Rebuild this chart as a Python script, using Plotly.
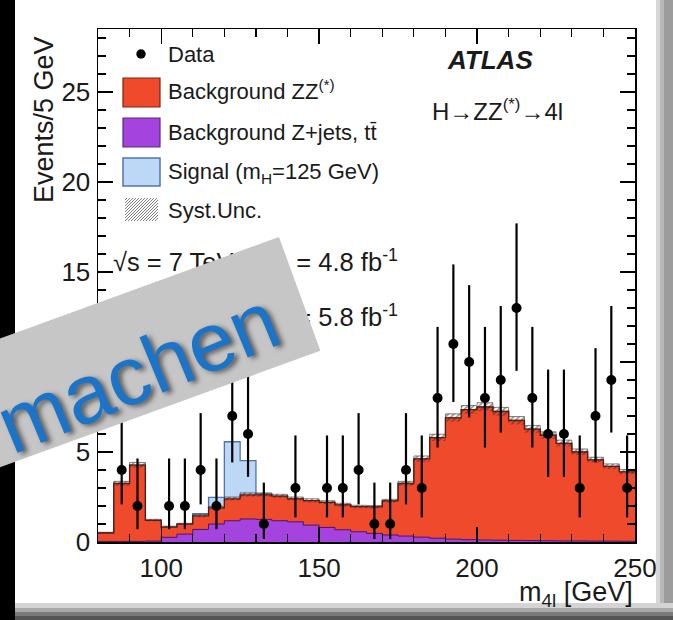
import plotly.graph_objects as go

# ---------------- data ----------------
bin_centers = [82.5, 87.5, 92.5, 97.5, 102.5, 107.5, 112.5, 117.5, 122.5, 127.5,
               132.5, 137.5, 142.5, 147.5, 152.5, 157.5, 162.5, 167.5, 172.5, 177.5,
               182.5, 187.5, 192.5, 197.5, 202.5, 207.5, 212.5, 217.5, 222.5, 227.5,
               232.5, 237.5, 242.5, 247.5]
bkg_zjets = [0.03, 0.03, 0.03, 0.05, 0.26, 0.44, 0.70, 1.00, 1.18, 1.28,
             1.26, 1.18, 1.12, 0.94, 0.81, 0.68, 0.57, 0.48, 0.39, 0.33,
             0.27, 0.21, 0.16, 0.13, 0.11, 0.10, 0.09, 0.08, 0.07, 0.06,
             0.06, 0.05, 0.05, 0.04]
bkg_zz = [0.47, 3.22, 4.24, 1.15, 0.57, 0.55, 0.75, 0.90, 1.22, 1.34,
          1.36, 1.37, 1.28, 1.36, 1.39, 1.38, 1.39, 1.47, 1.89, 2.92,
          4.35, 5.59, 6.74, 7.22, 7.39, 7.15, 6.66, 6.19, 5.86, 5.42,
          4.94, 4.51, 4.15, 3.86]
signal_h125 = [0, 0, 0, 0, 0, 0, 0.12, 0.58, 3.17, 1.90,
               0.05, 0, 0, 0, 0, 0, 0, 0, 0, 0,
               0, 0, 0, 0, 0, 0, 0, 0, 0, 0,
               0, 0, 0, 0]
syst_unc = [0.04, 0.12, 0.15, 0.06, 0.05, 0.05, 0.07, 0.08, 0.10, 0.11,
            0.11, 0.10, 0.10, 0.10, 0.09, 0.09, 0.08, 0.08, 0.09, 0.12,
            0.16, 0.19, 0.22, 0.23, 0.24, 0.23, 0.22, 0.20, 0.19, 0.18,
            0.17, 0.15, 0.14, 0.13]

data_mass = [87.5, 92.5, 102.5, 107.5, 112.5, 117.5, 122.5, 127.5, 132.5, 142.5,
             152.5, 157.5, 162.5, 167.5, 172.5, 177.5, 182.5, 187.5, 192.5, 197.5,
             202.5, 207.5, 212.5, 217.5, 222.5, 227.5, 232.5, 237.5, 242.5, 247.5]
data_events = [4, 2, 2, 2, 4, 2, 7, 6, 1, 3,
               3, 3, 4, 1, 1, 4, 3, 8, 11, 10,
               8, 9, 13, 8, 6, 6, 3, 7, 9, 3]
data_err_up = [3.16, 2.64, 2.64, 2.64, 3.16, 2.64, 3.77, 3.58, 2.30, 2.92,
               2.92, 2.92, 3.16, 2.30, 2.30, 3.16, 2.92, 3.95, 4.42, 4.27,
               3.95, 4.11, 4.70, 3.95, 3.58, 3.58, 2.92, 3.77, 4.11, 2.92]
data_err_down = [1.91, 1.29, 1.29, 1.29, 1.91, 1.29, 2.58, 2.38, 0.83, 1.63,
                 1.63, 1.63, 1.91, 0.83, 0.83, 1.91, 1.63, 2.75, 3.22, 3.08,
                 2.75, 2.92, 3.49, 2.75, 2.38, 2.38, 1.63, 2.58, 2.92, 1.63]

x_tick_vals = [100, 150, 200, 250]
x_tick_text = ["100", "150", "200", "250"]
y_tick_vals = [0, 5, 10, 15, 20, 25]
y_tick_text = ["0", "5", "10", "15", "20", "25"]

# ---------------- geometry helpers (pixels -> paper) ----------------
W, H = 673, 620
PL, PR, PT, PB = 98, 635, 29, 542
XMIN, XMAX, YMIN, YMAX = 80, 250, 0, 28.5


def X(px):
    return (px - PL) / (PR - PL)


def Y(py):
    return (PB - py) / (PB - PT)


def DX(px):
    return XMIN + (px - PL) * (XMAX - XMIN) / (PR - PL)


def DY(py):
    return YMIN + (PB - py) * (YMAX - YMIN) / (PB - PT)


FONT = "Liberation Sans, Arial, Helvetica, sans-serif"
RED = "#ef4a2b"
PURPLE = "#a443de"
BLUE = "#bcd8f6"

edges = [c - 2.5 for c in bin_centers] + [bin_centers[-1] + 2.5]


def step(vals):
    return list(vals) + [vals[-1]]


total_bkg = [a + b for a, b in zip(bkg_zjets, bkg_zz)]
sig_top = [t + s for t, s in zip(total_bkg, signal_h125)]
unc_lo = [t - u for t, u in zip(total_bkg, syst_unc)]
unc_hi = [t + u for t, u in zip(total_bkg, syst_unc)]

fig = go.Figure()

fig.add_trace(go.Scatter(x=edges, y=step(sig_top), mode="lines",
                         line=dict(shape="hv", color="#4f74ad", width=1.3),
                         fill="tozeroy", fillcolor=BLUE, name="Signal"))
fig.add_trace(go.Scatter(x=edges, y=step(total_bkg), mode="lines",
                         line=dict(shape="hv", color="#6b1a0e", width=1.3),
                         fill="tozeroy", fillcolor=RED, name="Background ZZ(*)"))
fig.add_trace(go.Scatter(x=edges, y=step(bkg_zjets), mode="lines",
                         line=dict(shape="hv", color="#4b1466", width=1.0),
                         fill="tozeroy", fillcolor=PURPLE, name="Background Z+jets, tt"))
fig.add_trace(go.Scatter(x=edges, y=step(unc_lo), mode="lines",
                         line=dict(shape="hv", color="rgba(0,0,0,0)", width=0),
                         showlegend=False, hoverinfo="skip"))
fig.add_trace(go.Scatter(x=edges, y=step(unc_hi), mode="lines",
                         line=dict(shape="hv", color="rgba(40,40,40,0.7)", width=0.8),
                         fill="tonexty", fillcolor="rgba(0,0,0,0)",
                         fillpattern=dict(shape="/", fgcolor="#2a2a2a", bgcolor="rgba(0,0,0,0)",
                                          size=4, solidity=0.45),
                         name="Syst.Unc."))
fig.add_trace(go.Scatter(x=data_mass, y=data_events, mode="markers",
                         marker=dict(color="black", size=10),
                         error_y=dict(type="data", symmetric=False, array=data_err_up,
                                      arrayminus=data_err_down, color="black",
                                      thickness=2.2, width=0),
                         name="Data"))

# luminosity text lines (drawn as traces so the banner covers their middle)
LUMI_FONT = dict(family=FONT, size=25.5, color="#1a1a1a")
MID_FONT = dict(family=FONT, size=23, color="#1a1a1a")
for py, mid_x, left_txt, mid_txt, right_txt in [
        (265, 267, "√s = 7 TeV:", "∫Ldt", "= 4.8 fb<sup>-1</sup>"),
        (320, 270, "√s = 8 TeV:", "∫Ldt", "= 5.8 fb<sup>-1</sup>")]:
    fig.add_trace(go.Scatter(x=[DX(113)], y=[DY(py)], mode="text", text=[left_txt],
                             textposition="middle right", textfont=LUMI_FONT,
                             hoverinfo="skip"))
    fig.add_trace(go.Scatter(x=[DX(mid_x)], y=[DY(py)], mode="text", text=[mid_txt],
                             textposition="middle center", textfont=MID_FONT,
                             hoverinfo="skip"))
    fig.add_trace(go.Scatter(x=[DX(398)], y=[DY(py)], mode="text", text=[right_txt],
                             textposition="middle left", textfont=LUMI_FONT,
                             hoverinfo="skip"))

shapes = []
ann = []


def rect(x0, y0, x1, y1, fill, line=None, lw=0):
    shapes.append(dict(type="rect", xref="paper", yref="paper",
                       x0=X(x0), x1=X(x1), y0=Y(y1), y1=Y(y0),
                       fillcolor=fill, line=dict(color=line or fill, width=lw),
                       layer="above"))


# legend swatches
shapes.append(dict(type="circle", xref="paper", yref="paper",
                   x0=X(136.3), x1=X(145.7), y0=Y(58.7), y1=Y(49.3),
                   fillcolor="black", line=dict(color="black", width=0), layer="above"))
rect(123, 78, 160, 107, RED, "#7a2414", 1.2)
rect(123, 118, 160, 147, PURPLE, "#5a2a7a", 1.2)
rect(123, 158, 160, 186, BLUE, "#4f74ad", 1.5)
hx0, hx1, hy0, hy1 = 125, 158, 198, 221
c = hx0 + hy0 + 2
while c < hx1 + hy1:
    xa = max(hx0, c - hy1)
    xb = min(hx1, c - hy0)
    if xb > xa:
        shapes.append(dict(type="line", xref="paper", yref="paper",
                           x0=X(xa), y0=Y(c - xa), x1=X(xb), y1=Y(c - xb),
                           line=dict(color="#808080", width=1), layer="above"))
    c += 3


def text(px, py, s, size, xanchor="left", angle=0, color="#1a1a1a"):
    ann.append(dict(x=X(px), y=Y(py), xref="paper", yref="paper", text=s,
                    showarrow=False, xanchor=xanchor, yanchor="middle",
                    textangle=angle, font=dict(family=FONT, size=size, color=color)))


text(166, 54, "Data", 22)
text(166, 90, "Background ZZ<sup>(*)</sup>", 22)
text(166, 132, "Background Z+jets, tt\u0304", 22)
text(166, 173, "Signal (m<sub>H</sub>=125 GeV)", 22)
text(166, 210, "Syst.Unc.", 22)
text(490, 60, "<b><i>ATLAS</i></b>", 26, xanchor="center")
text(497, 110, "H→ZZ<sup>(*)</sup>→4l", 24, xanchor="center")
text(635, 594, "m<sub>4l</sub> [GeV]", 27, xanchor="right")
text(44, 120, "Events/5 GeV", 27, xanchor="center", angle=-90)

# photo borders
rect(-5, -5, 15, 625, "black")
rect(656, -5, 660, 625, "#d6d6d6")
rect(660, -5, 664, 625, "#b8b8b8")
rect(664, -5, 678, 625, "#9c9c9c")
rect(15, 603, 678, 608, "#d4d4d4")
rect(15, 608, 678, 612, "#a8a8a8")
rect(15, 612, 678, 616, "#7a7a7a")
rect(15, 616, 678, 625, "#555555")

# grey banner
bx = [279, 320.4, -60, -60]
by = [237, 350.7, 350.7 + 380.4 * 0.364, 237 + 339 * 0.364]
path = "M {} {} L {} {} L {} {} L {} {} Z".format(
    X(bx[0]), Y(by[0]), X(bx[1]), Y(by[1]), X(bx[2]), Y(by[2]), X(bx[3]), Y(by[3]))
shapes.append(dict(type="path", xref="paper", yref="paper", path=path,
                   fillcolor="#c6c6c6", line=dict(color="#c6c6c6", width=0), layer="above"))

ann.append(dict(x=X(137), y=Y(372), xref="paper", yref="paper", text="machen",
                showarrow=False, xanchor="center", yanchor="middle", textangle=-22.5,
                font=dict(family=FONT, size=83, color="#1b74c8",
                          shadow="3px 3px 5px rgba(0,0,0,0.55)")))

axis_common = dict(showline=True, linecolor="black", linewidth=1.5, mirror="allticks",
                   ticks="inside", ticklen=15, tickwidth=1.3, tickcolor="black",
                   showgrid=False, zeroline=False,
                   tickfont=dict(family=FONT, size=26, color="#1a1a1a"))

fig.update_layout(
    width=W, height=H,
    margin=dict(l=PL, r=W - PR, t=PT, b=H - PB, pad=0),
    paper_bgcolor="white", plot_bgcolor="white",
    showlegend=False,
    xaxis=dict(range=[XMIN, XMAX], tickmode="array", tickvals=x_tick_vals, ticktext=x_tick_text,
               ticklabelstandoff=2,
               minor=dict(ticks="inside", ticklen=8, tickwidth=1.2, tickcolor="black",
                          tickmode="array", tickvals=list(range(90, 250, 10))),
               **axis_common),
    yaxis=dict(range=[YMIN, YMAX], tickmode="array", tickvals=y_tick_vals, ticktext=y_tick_text,
               ticklabelstandoff=1,
               minor=dict(ticks="inside", ticklen=8, tickwidth=1.2, tickcolor="black",
                          tickmode="array", tickvals=list(range(1, 29))),
               **axis_common),
    shapes=shapes,
    annotations=ann,
)

fig.write_html("out.html", config={"displayModeBar": False, "staticPlot": True},
               post_script="document.body.style.margin='0px';document.body.style.padding='0px';")
